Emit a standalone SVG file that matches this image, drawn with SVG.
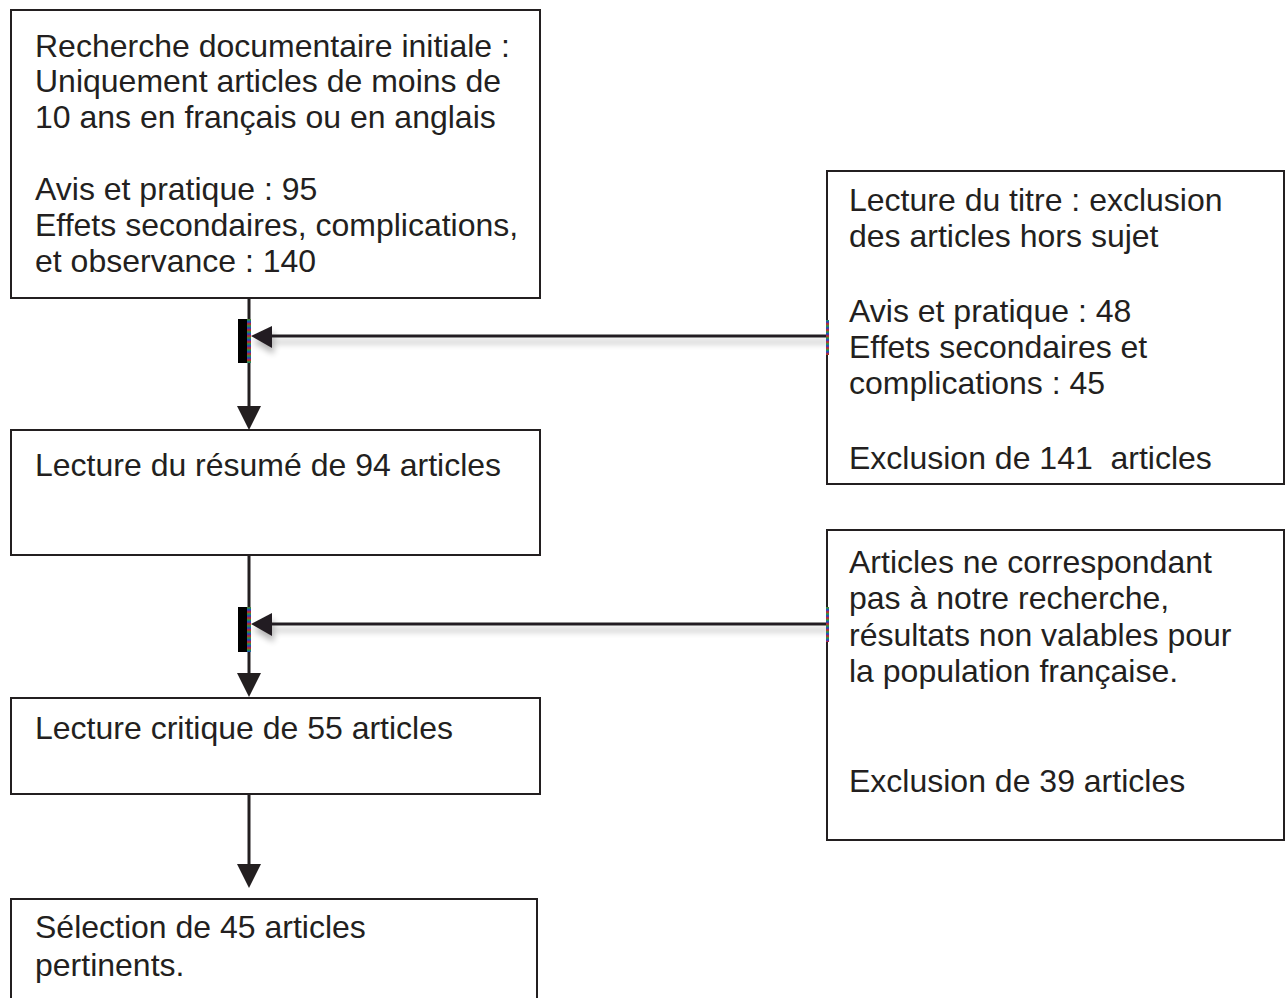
<svg xmlns="http://www.w3.org/2000/svg" width="1288" height="998" viewBox="0 0 1288 998">
<style>
.box{fill:#fff;stroke:#231f20;stroke-width:2}
.t{font-family:"Liberation Sans",Arial,sans-serif;font-size:32px;fill:#231f20}
.ln{stroke:#231f20;stroke-width:3;fill:none}
.ah{fill:#231f20}
</style>
<defs>
<filter id="sh" x="-20%" y="-100%" width="140%" height="400%">
<feGaussianBlur in="SourceAlpha" stdDeviation="3"/>
<feOffset dx="2" dy="6" result="b"/>
<feComponentTransfer><feFuncA type="linear" slope="0.3"/></feComponentTransfer>
<feMerge><feMergeNode/><feMergeNode in="SourceGraphic"/></feMerge>
</filter>
<linearGradient id="rb" x1="0" y1="0" x2="0" y2="6" gradientUnits="userSpaceOnUse" spreadMethod="repeat">
<stop offset="0" stop-color="#d42020"/>
<stop offset="0.33" stop-color="#20a040"/>
<stop offset="0.66" stop-color="#2040d0"/>
<stop offset="1" stop-color="#d42020"/>
</linearGradient>
</defs>
<g id="connectors">
<line class="ln" x1="249" y1="288" x2="249" y2="410"/>
<polygon class="ah" points="237,406 261,406 249,430"/>
<rect x="238" y="319" width="13" height="44" fill="#000"/>
<rect x="247" y="319" width="4" height="44" fill="url(#rb)"/>
<g filter="url(#sh)">
<line class="ln" x1="270" y1="336" x2="827" y2="336"/>
<polygon class="ah" points="251,336 272,326 272,348"/>
</g>
<line class="ln" x1="249" y1="555" x2="249" y2="676"/>
<polygon class="ah" points="237,673 261,673 249,697"/>
<rect x="238" y="607" width="13" height="45" fill="#000"/>
<rect x="247" y="607" width="4" height="45" fill="url(#rb)"/>
<g filter="url(#sh)">
<line class="ln" x1="270" y1="624" x2="827" y2="624"/>
<polygon class="ah" points="251,624 272,613 272,636"/>
</g>
<line class="ln" x1="249" y1="794" x2="249" y2="866"/>
<polygon class="ah" points="237,864 261,864 249,888"/>
</g>
<g id="n1">
<rect class="box" x="11" y="10" width="529" height="288"/>
<text class="t" x="35" y="57">Recherche documentaire initiale :</text>
<text class="t" x="35" y="92">Uniquement articles de moins de</text>
<text class="t" x="35" y="128">10 ans en français ou en anglais</text>
<text class="t" x="35" y="200">Avis et pratique : 95</text>
<text class="t" x="35" y="236">Effets secondaires, complications,</text>
<text class="t" x="35" y="272">et observance : 140</text>
</g>
<g id="n2">
<rect class="box" x="827" y="171" width="457" height="313"/>
<rect x="826" y="320" width="3" height="35" fill="url(#rb)"/>
<text class="t" x="849" y="211">Lecture du titre : exclusion</text>
<text class="t" x="849" y="247">des articles hors sujet</text>
<text class="t" x="849" y="322">Avis et pratique : 48</text>
<text class="t" x="849" y="358">Effets secondaires et</text>
<text class="t" x="849" y="394">complications : 45</text>
<text class="t" x="849" y="469" xml:space="preserve">Exclusion de 141  articles</text>
</g>
<g id="n3">
<rect class="box" x="11" y="430" width="529" height="125"/>
<text class="t" x="35" y="476">Lecture du résumé de 94 articles</text>
</g>
<g id="n4">
<rect class="box" x="827" y="530" width="457" height="310"/>
<rect x="826" y="607" width="3" height="35" fill="url(#rb)"/>
<text class="t" x="849" y="573">Articles ne correspondant</text>
<text class="t" x="849" y="609">pas à notre recherche,</text>
<text class="t" x="849" y="646">résultats non valables pour</text>
<text class="t" x="849" y="682">la population française.</text>
<text class="t" x="849" y="792">Exclusion de 39 articles</text>
</g>
<g id="n5">
<rect class="box" x="11" y="698" width="529" height="96"/>
<text class="t" x="35" y="739">Lecture critique de 55 articles</text>
</g>
<g id="n6">
<rect class="box" x="11" y="899" width="526" height="110"/>
<text class="t" x="35" y="938">Sélection de 45 articles</text>
<text class="t" x="35" y="976">pertinents.</text>
</g>
</svg>
